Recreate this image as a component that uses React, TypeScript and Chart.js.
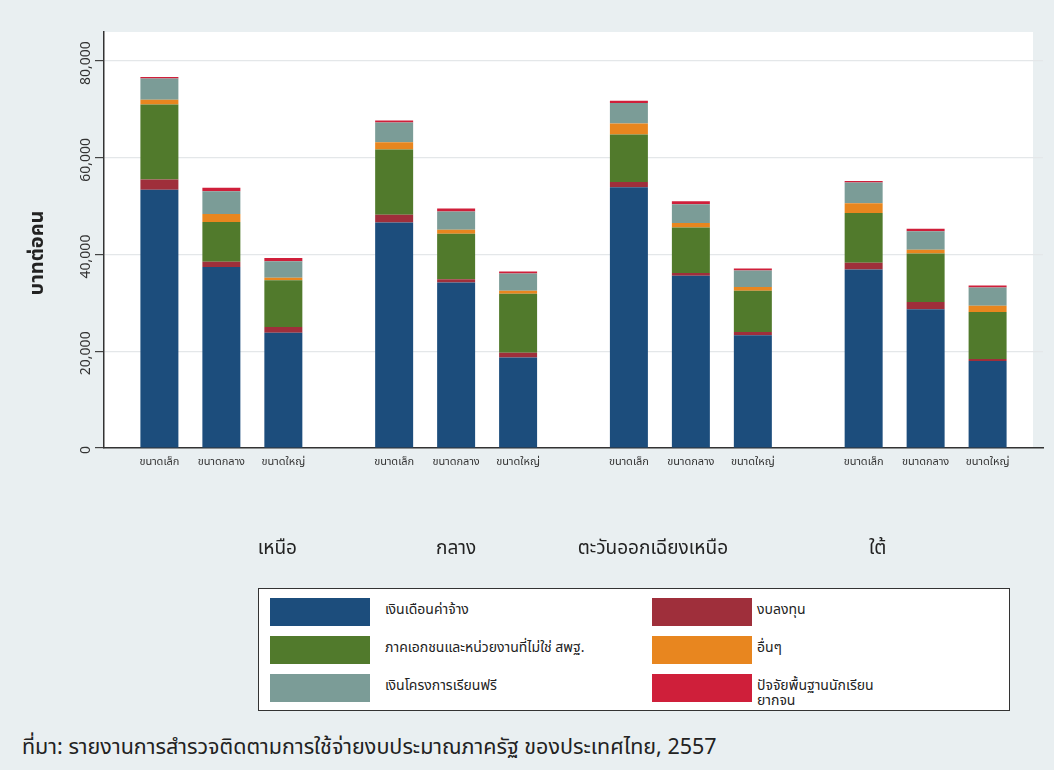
import React, { useEffect, useRef } from "react";
import { Chart, registerables } from "chart.js";
Chart.register(...registerables);

// ---------- data ----------
const regions = ["เหนือ", "กลาง", "ตะวันออกเฉียงเหนือ", "ใต้"];
const sizes = ["ขนาดเล็ก", "ขนาดกลาง", "ขนาดใหญ่"];
const yTicks = [0, 20000, 40000, 60000, 80000];

const seriesNames = [
  "เงินเดือนค่าจ้าง",
  "งบลงทุน",
  "ภาคเอกชนและหน่วยงานที่ไม่ใช่ สพฐ.",
  "อื่นๆ",
  "เงินโครงการเรียนฟรี",
  "ปัจจัยพื้นฐานนักเรียนยากจน",
];

// values per series: [region][size] (บาทต่อคน)
const salary = [
  [53400, 37400, 23800],
  [46600, 34200, 18700],
  [53900, 35600, 23300],
  [36900, 28700, 18000],
];
const capital = [
  [2100, 1100, 1200],
  [1600, 700, 1000],
  [1100, 600, 700],
  [1400, 1500, 400],
];
const privateSector = [
  [15500, 8200, 9700],
  [13500, 9400, 12200],
  [9800, 9400, 8500],
  [10300, 10000, 9700],
];
const others = [
  [1000, 1700, 500],
  [1500, 800, 600],
  [2300, 900, 800],
  [2000, 800, 1300],
];
const freeEducation = [
  [4400, 4700, 3400],
  [4100, 3800, 3600],
  [4200, 3900, 3400],
  [4300, 3800, 3800],
];
const poorStudents = [
  [300, 700, 700],
  [400, 600, 400],
  [500, 600, 400],
  [300, 500, 400],
];

const seriesValues = [salary, capital, privateSector, others, freeEducation, poorStudents];
const seriesColors = ["#1c4d7c", "#9f2f3b", "#517a2c", "#e8861f", "#7b9c97", "#cf1f3a"];

// legend layout order (two columns)
const legendLeft = [0, 2, 4];
const legendRight = [1, 3, 5];

const FONT = '"Noto Sans Thai", "Noto Sans", "DejaVu Sans", sans-serif';
const groupLabelShift = [56, 0, -38, -48];

export default function App() {
  const canvasRef = useRef<HTMLCanvasElement | null>(null);

  useEffect(() => {
    const canvas = canvasRef.current;
    if (!canvas) return;

    const datasets: any[] = [];
    seriesValues.forEach((vals, s) => {
      sizes.forEach((size, k) => {
        datasets.push({
          label: seriesNames[s],
          stack: size,
          data: regions.map((_, r) => vals[r][k]),
          backgroundColor: seriesColors[s],
          borderWidth: 0,
          categoryPercentage: 0.792,
          barPercentage: 0.613,
        });
      });
    });

    const textPlugin = {
      id: "textPlugin",
      beforeDraw(chart: any) {
        const { ctx, chartArea } = chart;
        ctx.save();
        ctx.fillStyle = "#ffffff";
        ctx.fillRect(chartArea.left, chartArea.top, chartArea.right - chartArea.left - 10, chartArea.bottom - chartArea.top);
        ctx.restore();
      },
      afterDraw(chart: any) {
        const { ctx, chartArea, scales } = chart;
        const y = scales.y;
        const x = scales.x;
        ctx.save();
        // y tick labels (rotated)
        ctx.fillStyle = "#333";
        ctx.font = `14px ${FONT}`;
        ctx.textAlign = "center";
        ctx.textBaseline = "middle";
        yTicks.forEach((v) => {
          const py = y.getPixelForValue(v);
          ctx.save();
          ctx.translate(87, py + 2);
          ctx.rotate(-Math.PI / 2);
          ctx.fillText(v.toLocaleString("en-US"), 0, 0);
          ctx.restore();
        });
        // y title
        ctx.save();
        ctx.translate(39, 253);
        ctx.rotate(-Math.PI / 2);
        ctx.font = `bold 20px ${FONT}`;
        ctx.fillStyle = "#222";
        ctx.fillText("บาทต่อคน", 0, 0);
        ctx.restore();
        // size labels under each bar
        ctx.font = `11px ${FONT}`;
        ctx.fillStyle = "#333";
        sizes.forEach((size, k) => {
          const meta = chart.getDatasetMeta(k);
          meta.data.forEach((bar: any) => {
            ctx.fillText(size, bar.x, chartArea.bottom + 15);
          });
        });
        // region labels
        ctx.font = `19px ${FONT}`;
        ctx.fillStyle = "#222";
        regions.forEach((r, i) => {
          ctx.fillText(r, x.getPixelForValue(i) + groupLabelShift[i], 550);
        });
        ctx.restore();
      },
    };

    const chart = new Chart(canvas, {
      type: "bar",
      data: { labels: regions, datasets },
      plugins: [textPlugin],
      options: {
        animation: false,
        responsive: false,
        layout: { padding: { top: 32, right: 11, left: 0, bottom: 0 } },
        plugins: { legend: { display: false }, tooltip: { enabled: false } },
        scales: {
          x: {
            stacked: true,
            grid: { display: false },
            border: { display: true, color: "#333", width: 1.5 },
            ticks: { display: false },
            afterFit(scale: any) {
              scale.height = 132;
            },
          },
          y: {
            stacked: true,
            min: 0,
            max: 86000,
            afterBuildTicks(scale: any) {
              scale.ticks = yTicks.map((v) => ({ value: v }));
            },
            grid: { color: "#e4e7e9", lineWidth: 1.2, tickLength: 9, tickColor: "#444" },
            border: { display: true, color: "#333", width: 1.5 },
            ticks: { display: false },
            afterFit(scale: any) {
              scale.width = 104;
            },
          },
        },
      },
    });
    return () => chart.destroy();
  }, []);

  const swatch = (i: number, left: number, top: number) => (
    <div key={"s" + i}>
      <div
        style={{
          position: "absolute",
          left,
          top,
          width: 100,
          height: 28,
          background: seriesColors[i],
        }}
      />
      <div
        style={{
          position: "absolute",
          left: left + (i % 2 === 0 ? 115 : 105),
          top: top + 4,
          width: i % 2 === 0 ? 260 : 150,
          fontSize: 14,
          lineHeight: "15px",
          color: "#222",
          fontFamily: FONT,
        }}
      >
        {seriesNames[i]}
      </div>
    </div>
  );

  return (
    <div
      style={{
        position: "relative",
        width: 1054,
        height: 770,
        background: "#e9eff1",
        overflow: "hidden",
        fontFamily: FONT,
      }}
    >
      <style>{`body{margin:0}`}</style>
      <canvas ref={canvasRef} width={1054} height={580} style={{ position: "absolute", left: 0, top: 0, width: 1054, height: 580 }} />
      <div
        style={{
          position: "absolute",
          left: 258,
          top: 588,
          width: 750,
          height: 121,
          border: "1.5px solid #333",
          background: "#ffffff",
        }}
      >
        {legendLeft.map((i, row) => swatch(i, 11, 9 + row * 38))}
        {legendRight.map((i, row) => swatch(i, 393, 9 + row * 38))}
      </div>
      <div
        style={{
          position: "absolute",
          left: 22,
          top: 731,
          fontSize: 21.5,
          color: "#222",
          whiteSpace: "nowrap",
        }}
      >
        ที่มา: รายงานการสำรวจติดตามการใช้จ่ายงบประมาณภาครัฐ ของประเทศไทย, 2557
      </div>
    </div>
  );
}
